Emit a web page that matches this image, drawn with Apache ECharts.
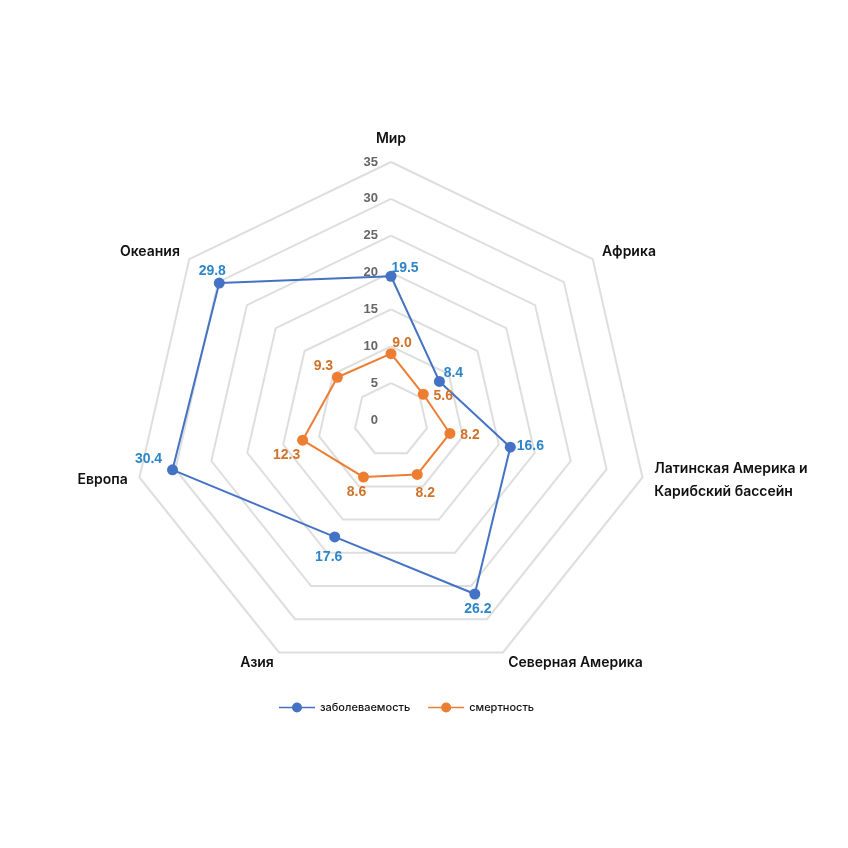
<!DOCTYPE html>
<html><head><meta charset="utf-8">
<script src="https://cdn.jsdelivr.net/npm/echarts@6/dist/echarts.min.js"></script>
<style>html,body{margin:0;padding:0;background:#fff}#c{width:848px;height:848px}</style>
</head><body><div id="c"></div>
<script>
// Regions in clockwise order as shown (starting at top)
const regions = ['Мир', 'Африка', 'Латинская Америка и\nКарибский бассейн', 'Северная Америка', 'Азия', 'Европа', 'Океания'];
const incidence = [19.5, 8.4, 16.6, 26.2, 17.6, 30.4, 29.8];
const mortality = [9.0, 5.6, 8.2, 8.2, 8.6, 12.3, 9.3];
const seriesNames = ['заболеваемость', 'смертность'];
const axisMax = 35;
const axisStep = 5;

// ECharts radar places indicators counter-clockwise: reorder to keep the clockwise look
const order = [0, 6, 5, 4, 3, 2, 1];
const ind = order.map(i => regions[i]);
const inc = order.map(i => incidence[i]);
const mor = order.map(i => mortality[i]);

// label offsets (dx, dy) per displayed position (in ECharts order)
const offInc = [[14,-8],[-7,-12],[-24,-11],[-6,20],[3,15],[20,-1],[14,-8]];
const offMor = [[11,-11],[-14,-11],[-16,15],[-7,15],[8,19],[20,2],[20,2]];
function richFor(offs, color) {
  const r = {};
  offs.forEach((o, k) => {
    const dx = o[0], dy = o[1];
    r['p' + k] = {
      color: color, fontWeight: 'bold', fontSize: 14, fontFamily: 'Liberation Sans, Arial, sans-serif',
      padding: [dy > 0 ? 2 * dy : 0, dx < 0 ? -2 * dx : 0, dy < 0 ? -2 * dy : 0, dx > 0 ? 2 * dx : 0]
    };
  });
  return r;
}

const chart = echarts.init(document.getElementById('c'), null, {renderer: 'canvas'});
chart.setOption({
  animation: false,
  backgroundColor: '#ffffff',
  legend: {
    data: seriesNames,
    top: 697,
    left: 274,
    itemGap: 18,
    itemWidth: 36,
    itemHeight: 10,
    icon: 'path://M0,4.25L36,4.25L36,5.75L0,5.75Z M13,5A5,5 0 1,1 23,5A5,5 0 1,1 13,5Z',
    textStyle: {fontSize: 11, fontWeight: 500, color: '#111', fontFamily: 'Inter, Roboto, sans-serif'}
  },
  radar: {
    center: [391, 420],
    radius: 258,
    startAngle: 90,
    splitNumber: axisMax / axisStep,
    shape: 'polygon',
    nameGap: 12,
    axisName: {color: '#111', fontSize: 14, fontWeight: 600, fontFamily: 'Inter, Roboto, sans-serif', lineHeight: 23},
    indicator: ind.map((n, k) => {
      const o = {name: n, min: 0, max: axisMax};
      if (k === 0) o.axisLabel = {show: true, color: '#666', fontSize: 13, fontWeight: 'bold', fontFamily: 'Liberation Sans, Arial, sans-serif', margin: 13, showMaxLabel: true, showMinLabel: true};
      return o;
    }),
    axisLine: {show: false},
    axisTick: {show: false},
    splitLine: {lineStyle: {color: '#dedede', width: 2}},
    splitArea: {show: false}
  },
  series: [{
    type: 'radar',
    data: [
      {
        name: seriesNames[0], value: inc,
        symbol: 'circle', symbolSize: 11,
        lineStyle: {color: '#4472c4', width: 2},
        itemStyle: {color: '#4472c4'},
        label: {show: true, position: 'inside', formatter: p => '{p' + p.dimensionIndex + '|' + Number(p.value).toFixed(1) + '}', rich: richFor(offInc, '#2e86c8')}
      },
      {
        name: seriesNames[1], value: mor,
        symbol: 'circle', symbolSize: 11,
        lineStyle: {color: '#ed7d31', width: 2},
        itemStyle: {color: '#ed7d31'},
        label: {show: true, position: 'inside', formatter: p => '{p' + p.dimensionIndex + '|' + Number(p.value).toFixed(1) + '}', rich: richFor(offMor, '#d0722a')}
      }
    ]
  }]
});
</script></body></html>
